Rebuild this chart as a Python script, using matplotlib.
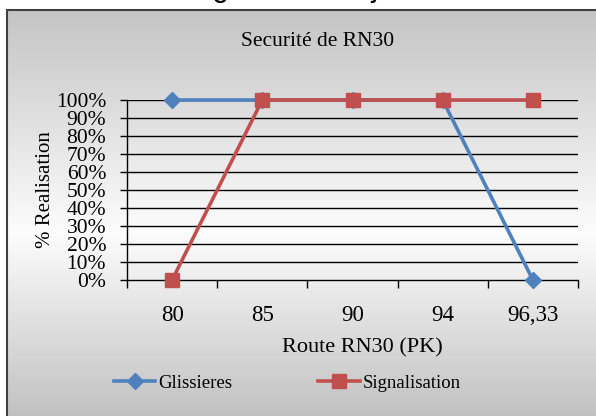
import matplotlib
matplotlib.use('Agg')
import matplotlib.pyplot as plt
import numpy as np
from matplotlib.patches import Rectangle

pk = ['80', '85', '90', '94', '96,33']
glissieres = [1.0, 1.0, 1.0, 1.0, 0.0]
signalisation = [0.0, 1.0, 1.0, 1.0, 1.0]
yticks = [0, 0.1, 0.2, 0.3, 0.4, 0.5, 0.6, 0.7, 0.8, 0.9, 1.0]

W, H = 596, 416
fig = plt.figure(figsize=(W / 100, H / 100), dpi=100)

# gray gradient background of the chart box
bg = fig.add_axes([7 / W, 0, 1 - 7 / W, 1 - 10 / H])
bg.set_xlim(0, 1)
bg.set_ylim(0, 1)
t = np.linspace(0, 1, 200)
shade = np.interp(t, [0, 0.45, 1], [0.76, 0.99, 0.77])
grad = np.dstack([shade, shade, shade]).reshape(200, 1, 3)
bg.imshow(grad, extent=[0, 1, 0, 1], aspect='auto', origin='lower', zorder=0)
bg.add_patch(Rectangle((0, -0.1), 1.2, 1.1, fill=False, edgecolor='#404040',
                       linewidth=1.5, transform=bg.transAxes, clip_on=False))
bg.set_axis_off()

# heading of the page above, mostly cut off
fig.text(187 / W, 1 + 4 / H, 'Figure 3 : Projet de Modernisation', ha='left', va='baseline',
         fontsize=22, family='Liberation Sans', color='black')

serif = 'Liberation Serif'
ax = fig.add_axes([127 / W, 1 - 280 / H, (578 - 127) / W, 180 / H])
ax.patch.set_alpha(0)
x = np.arange(len(pk))
ax.set_xlim(-0.5, len(pk) - 0.5)
ax.set_ylim(0, 1)
for v in yticks[1:]:
    ax.axhline(v, color='black', linewidth=1.0, zorder=1)

ax.plot(x, glissieres, color='#4F81BD', linewidth=2.6, marker='D', markersize=8.5,
        label='Glissieres', zorder=3, clip_on=False)
ax.plot(x, signalisation, color='#C0504D', linewidth=2.6, marker='s', markersize=10.5,
        label='Signalisation', zorder=4, clip_on=False)

ax.set_yticks(yticks)
ax.set_yticklabels(['%d%%' % round(v * 100) for v in yticks], family=serif, fontsize=15.5)
ax.set_xticks(x)
ax.set_xticklabels(pk, family=serif, fontsize=16.5)
ax.set_xticks(np.arange(len(pk) + 1) - 0.5, minor=True)
ax.tick_params(axis='x', which='major', length=0, pad=18)
ax.tick_params(axis='x', which='minor', length=6, direction='out', width=1)
ax.tick_params(axis='y', length=5, direction='out', width=1, pad=10)
for s in ['top', 'right']:
    ax.spines[s].set_visible(False)
for s in ['left', 'bottom']:
    ax.spines[s].set_color('black')
    ax.spines[s].set_linewidth(1.0)

ax.set_ylabel('% Realisation', family=serif, fontsize=15, va='center')
ax.yaxis.set_label_coords((45 - 127) / (578 - 127), 0.5)
ax.set_xlabel('Route RN30 (PK)', family=serif, fontsize=16, va='center')
ax.xaxis.set_label_coords((362 - 127) / (578 - 127), -(348 - 280) / 180)
fig.text(318 / W, 1 - 42 / H, 'Securité de RN30', ha='center', va='center',
         family=serif, fontsize=15.5)

fig.legend(loc='center left', bbox_to_anchor=(114 / W, 1 - 383 / H), ncol=2,
           frameon=False, prop={'family': serif, 'size': 13.5}, handlelength=2.2,
           handletextpad=0.15, columnspacing=4.6, borderaxespad=0, borderpad=0)

fig.savefig('out.png', dpi=100)
